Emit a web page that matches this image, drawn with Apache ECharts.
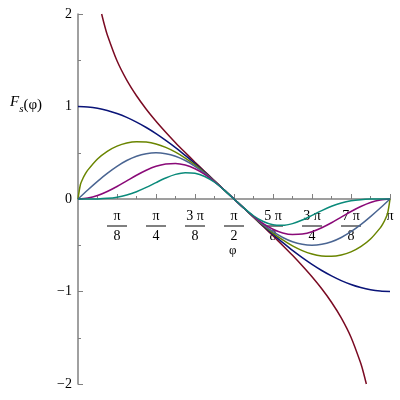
<!DOCTYPE html>
<html>
<head>
<meta charset="utf-8">
<script src="https://cdn.jsdelivr.net/npm/echarts@6/dist/echarts.min.js"></script>
<style>
  html, body { margin: 0; padding: 0; background: #fff; }
  #chart_fs { width: 400px; height: 400px; }
</style>
</head>
<body>
<div id="chart_fs"></div>
<script>
  // x in units of pi (0 .. 1)
  var xGrid = [0, .03125, .0625, .09375, .125, .15625, .1875, .21875, .25, .28125, .3125, .34375, .375, .40625, .4375, .46875,
    .5, .53125, .5625, .59375, .625, .65625, .6875, .71875, .75, .78125, .8125, .84375, .875, .90625, .9375, .96875, 1];

  var blueY = [1, .995, .981, .957, .924, .882, .831, .773, .707, .634, .556, .471, .383, .290, .195, .098,
    0, -.098, -.195, -.290, -.383, -.471, -.556, -.634, -.707, -.773, -.831, -.882, -.924, -.957, -.981, -.995, -1];
  var slateY = [0, .098, .191, .278, .354, .416, .462, .490, .5, .490, .462, .416, .354, .278, .191, .098,
    0, -.098, -.191, -.278, -.354, -.416, -.462, -.490, -.5, -.490, -.462, -.416, -.354, -.278, -.191, -.098, 0];
  var purpleY = [0, .010, .037, .081, .135, .196, .257, .311, .354, .379, .384, .367, .327, .266, .188, .097,
    0, -.097, -.188, -.266, -.327, -.367, -.384, -.379, -.354, -.311, -.257, -.196, -.135, -.081, -.037, -.010, 0];
  var tealY = [0, .000, .001, .007, .020, .044, .079, .125, .177, .227, .266, .285, .279, .243, .181, .096,
    0, -.096, -.181, -.243, -.279, -.285, -.266, -.227, -.177, -.125, -.079, -.044, -.020, -.007, -.001, .000, 0];

  var greenX = [0, .0078, .0156, .0234, .03125, .0625, .09375, .125, .15625, .1875, .21875, .25, .28125, .3125, .34375, .375, .40625, .4375, .46875,
    .5, .53125, .5625, .59375, .625, .65625, .6875, .71875, .75, .78125, .8125, .84375, .875, .90625, .9375, .96875, .9766, .9844, .9922, 1];
  var greenY = [0, .157, .221, .271, .312, .433, .516, .572, .606, .620, .616, .595, .558, .507, .443, .368, .284, .193, .098,
    0, -.098, -.193, -.284, -.368, -.443, -.507, -.558, -.595, -.616, -.620, -.606, -.572, -.516, -.433, -.312, -.271, -.221, -.157, 0];

  var redX = [.0758, .085, .09375, .125, .15625, .1875, .21875, .25, .28125, .3125, .34375, .375, .40625, .4375, .46875,
    .5, .53125, .5625, .59375, .625, .65625, .6875, .71875, .75, .78125, .8125, .84375, .875, .90625, .915, .9242];
  var redY = [2.0, 1.878, 1.776, 1.494, 1.285, 1.116, .971, .841, .722, .609, .502, .398, .297, .197, .098,
    0, -.098, -.197, -.297, -.398, -.502, -.609, -.722, -.841, -.971, -1.116, -1.285, -1.494, -1.776, -1.878, -2.0];

  var xTickLabels = {
    '0.125': ['π', '8'], '0.25': ['π', '4'], '0.375': ['3 π', '8'], '0.5': ['π', '2'],
    '0.625': ['5 π', '8'], '0.75': ['3 π', '4'], '0.875': ['7 π', '8'], '1': ['π', '']
  };

  function pairs(xs, ys) {
    return xs.map(function (x, i) { return [x, ys[i]]; });
  }

  var serif = 'Liberation Serif';
  var myChart = echarts.init(document.getElementById('chart_fs'));

  var curves = [
    { name: 's=-1/2', data: pairs(redX, redY), color: '#7a0a22' },
    { name: 's=0', data: pairs(xGrid, blueY), color: '#0a1478' },
    { name: 's=1/2', data: pairs(greenX, greenY), color: '#6a8500' },
    { name: 's=1', data: pairs(xGrid, slateY), color: '#4a6592' },
    { name: 's=2', data: pairs(xGrid, purpleY), color: '#8a0a78' },
    { name: 's=4', data: pairs(xGrid, tealY), color: '#0a8a7a' }
  ];

  var option = {
    backgroundColor: '#fff',
    animation: false,
    grid: { left: 78, right: 10, top: 14, bottom: 16, outerBoundsMode: 'none', containLabel: false },
    xAxis: {
      type: 'value',
      min: 0,
      max: 1,
      interval: 0.125,
      offset: -185,
      axisLine: { onZero: false, lineStyle: { color: '#808080', width: 1.5 } },
      axisTick: { inside: true, length: 5, lineStyle: { color: '#808080' } },
      minorTick: { show: true, splitNumber: 2, length: 3, lineStyle: { color: '#808080' } },
      splitLine: { show: false },
      axisLabel: {
        margin: 9,
        color: '#000',
        fontFamily: serif,
        fontSize: 14,
        hideOverlap: false,
        formatter: function (v) {
          var key = String(v);
          var t = xTickLabels[key];
          if (!t) return '';
          if (t[1] === '') return '{n|' + t[0] + '}';
          return '{n|' + t[0] + '}\n{b| }\n{n|' + t[1] + '}';
        },
        rich: {
          n: { fontFamily: serif, fontSize: 14, color: '#000', lineHeight: 16, align: 'center' },
          b: { width: 20, height: 1, lineHeight: 4, fontSize: 1, backgroundColor: '#000', align: 'center' }
        }
      }
    },
    yAxis: {
      type: 'value',
      min: -2,
      max: 2,
      interval: 1,
      axisLine: { show: true, onZero: false, lineStyle: { color: '#808080', width: 1.5 } },
      axisTick: { show: true, inside: true, length: 5, lineStyle: { color: '#808080' } },
      minorTick: { show: true, splitNumber: 2, length: 3, lineStyle: { color: '#808080' } },
      splitLine: { show: false },
      axisLabel: {
        margin: 6,
        color: '#000',
        fontFamily: serif,
        fontSize: 14,
        formatter: function (v) { return String(v).replace('-', '\u2212'); }
      }
    },
    graphic: [
      {
        type: 'text',
        left: 10,
        top: 95,
        style: {
          text: '{f|F}{s|s}{p|(φ)}',
          rich: {
            f: { fontFamily: serif, fontStyle: 'italic', fontSize: 15, fill: '#000', verticalAlign: 'top' },
            s: { fontFamily: serif, fontStyle: 'italic', fontSize: 11, fill: '#000', padding: [9, 0, 0, 0] },
            p: { fontFamily: serif, fontSize: 15, fill: '#000' }
          }
        }
      },
      {
        type: 'text',
        left: 229,
        top: 244,
        style: { text: 'φ', fontFamily: serif, fontSize: 13, fill: '#000' }
      }
    ],
    series: curves.map(function (c) {
      return {
        name: c.name,
        type: 'line',
        data: c.data,
        smooth: 0.3,
        showSymbol: false,
        clip: true,
        lineStyle: { color: c.color, width: 1.5 },
        color: c.color
      };
    })
  };

  myChart.setOption(option);
  window.addEventListener('resize', function () { myChart.resize(); });
</script>
</body>
</html>
